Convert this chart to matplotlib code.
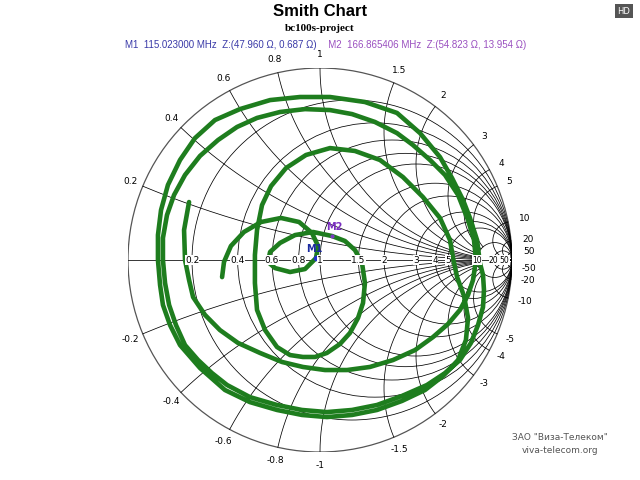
import numpy as np
import matplotlib.pyplot as plt
from matplotlib.patches import Circle

# chart grid values
r_values = [0.2, 0.4, 0.6, 0.8, 1, 1.5, 2, 3, 4, 5, 10, 20, 50]
x_values = [0.2, 0.4, 0.6, 0.8, 1, 1.5, 2, 3, 4, 5, 10, 20, 50]
r_labels = ["0.2", "0.4", "0.6", "0.8", "1", "1.5", "2", "3", "4", "5", "10", "20", "50"]

trace = [
    (-.682, .302), (-.708, .156), (-.703, 0), (-.682, -.104), (-.661, -.193), (-.599, -.286),
    (-.521, -.365), (-.427, -.432), (-.3125, -.484), (-.198, -.531), (-.089, -.557),
    (.026, -.573), (.141, -.573), (.260, -.557), (.380, -.521), (.495, -.469), (.589, -.401),
    (.667, -.333), (.729, -.260), (.771, -.182), (.797, -.104), (.8125, 0), (.802, .104),
    (.771, .208), (.719, .339), (.651, .443), (.573, .521), (.484, .599), (.401, .661),
    (.286, .719), (.167, .760), (.052, .781), (-.078, .786), (-.208, .771), (-.328, .740),
    (-.432, .693), (-.531, .625), (-.625, .542), (-.703, .443), (-.760, .339), (-.797, .234),
    (-.818, .115), (-.818, 0), (-.807, -.120), (-.786, -.234), (-.750, -.339), (-.703, -.443),
    (-.635, -.521), (-.5625, -.589), (-.484, -.651), (-.365, -.714), (-.224, -.755),
    (-.094, -.781), (.036, -.792), (.167, -.781), (.297, -.755), (.427, -.708), (.557, -.651),
    (.651, -.589), (.729, -.521), (.786, -.432), (.823, -.339), (.849, -.245), (.854, -.156),
    (.849, -.078), (.833, -.016), (.818, .104), (.781, .219), (.745, .3125), (.6875, .427),
    (.625, .536), (.521, .661), (.401, .766), (.234, .823), (.052, .849), (-.104, .849),
    (-.260, .833), (-.417, .786), (-.547, .729), (-.651, .635), (-.729, .521), (-.792, .391),
    (-.828, .260), (-.844, .130), (-.844, 0), (-.833, -.130), (-.818, -.234), (-.781, -.339),
    (-.729, -.443), (-.625, -.5625), (-.495, -.677), (-.365, -.740), (-.224, -.781),
    (-.094, -.807), (.036, -.818), (.167, -.807), (.297, -.781), (.427, -.734), (.547, -.677),
    (.641, -.604), (.719, -.521), (.760, -.417), (.771, -.302), (.750, -.1875), (.714, -.089),
    (.693, .010), (.677, .104), (.625, .219), (.536, .328), (.432, .432), (.3125, .521),
    (.182, .568), (.052, .583), (-.073, .547), (-.177, .479), (-.255, .385), (-.302, .286),
    (-.328, .156), (-.339, .026), (-.339, -.120), (-.328, -.260), (-.286, -.365),
    (-.224, -.453), (-.156, -.495), (-.089, -.505), (-.026, -.505), (.036, -.484),
    (.104, -.4375), (.156, -.380), (.198, -.302), (.224, -.224), (.234, -.120), (.219, -.016),
    (.182, .052), (.130, .099), (.0625, .125), (-.036, .146), (-.130, .130), (-.208, .089),
    (-.260, .042), (-.271, -.010), (-.234, -.042), (-.156, -.0625), (-.078, -.047),
    (-.021, .010), (-.010, .073), (-.042, .141), (-.109, .198), (-.203, .219), (-.307, .198),
    (-.396, .146), (-.464, .073), (-.500, -.010), (-.510, -.089),
]
trace_re = [p[0] for p in trace]
trace_im = [p[1] for p in trace]

m1 = (-0.021, 0.010)
m2 = (0.0625, 0.125)

fig = plt.figure(figsize=(6.4, 4.8), dpi=100)
ax = fig.add_axes([0.2, 0.0583, 0.6, 0.8])
ax.set_xlim(-1, 1)
ax.set_ylim(-1, 1)
ax.set_aspect("equal")
ax.axis("off")

ax.add_patch(Circle((0, 0), 1, fill=False, color="#555555", lw=0.9))

# resistance circles
for r in r_values:
    ax.add_patch(Circle((r / (1 + r), 0), 1 / (1 + r), fill=False, color="black", lw=0.55))

# reactance arcs (the small ones stop at the r=10 circle)
for x in x_values:
    r_max = 10 if x <= 5 else 1e4
    rr = np.concatenate([[0], np.logspace(-3, np.log10(r_max), 600)])
    for s in (1, -1):
        g = (rr + 1j * s * x - 1) / (rr + 1j * s * x + 1)
        ax.plot(g.real, g.imag, color="black", lw=0.55)
        g0 = (1j * s * x - 1) / (1j * s * x + 1)
        off = 1.07 if x < 10 else 1.09
        ax.text(g0.real * off, g0.imag * off, "%g" % (s * x), ha="center", va="center",
                fontsize=6.5, color="black")
ax.plot([-1, 1], [0, 0], color="black", lw=0.55)

for r, lab in zip(r_values, r_labels):
    ax.text((r - 1) / (r + 1), 0, lab, ha="center", va="center",
            fontsize=6.5 if r < 10 else 5.5,
            bbox=dict(facecolor="white", edgecolor="none", pad=0.2))

ax.plot(trace_re, trace_im, color="#1e7d1e", lw=3.3, solid_capstyle="round",
        solid_joinstyle="round")

ax.plot(*m1, "o", color="#2233cc", ms=3)
ax.text(m1[0] - 0.01, m1[1] + 0.02, "M1", color="#1a2aa0", fontsize=7, fontweight="bold",
        ha="center", va="bottom")
ax.plot(*m2, "o", color="#7a3fc0", ms=2)
ax.text(m2[0] + 0.01, m2[1] + 0.02, "M2", color="#7a2fc0", fontsize=7, fontweight="bold",
        ha="center", va="bottom")

fig.text(0.5, 0.977, "Smith Chart", ha="center", va="center", fontsize=12, fontweight="bold",
         family="Liberation Sans")
fig.text(0.5, 0.941, "bc100s-project", ha="center", va="center", fontsize=8, fontweight="bold",
         family="Liberation Serif")
fig.text(0.495, 0.906, "M1  115.023000 MHz  Z:(47.960 \u03a9, 0.687 \u03a9)", ha="right",
         va="center", fontsize=7, color="#3a3aa8", family="Liberation Sans")
fig.text(0.5, 0.906, "   M2  166.865406 MHz  Z:(54.823 \u03a9, 13.954 \u03a9)", ha="left",
         va="center", fontsize=7, color="#9a50c0", family="Liberation Sans")

fig.text(0.975, 0.977, "HD", ha="center", va="center", fontsize=6, color="white",
         bbox=dict(facecolor="#555555", edgecolor="none", pad=2))
fig.text(0.875, 0.088, "\u0417\u0410\u041e \"\u0412\u0438\u0437\u0430-\u0422\u0435\u043b\u0435\u043a\u043e\u043c\"",
         ha="center", va="center", fontsize=6.5, color="#555555")
fig.text(0.875, 0.061, "viva-telecom.org", ha="center", va="center", fontsize=6.5,
         color="#555555")

fig.savefig("out.png", dpi=100)
